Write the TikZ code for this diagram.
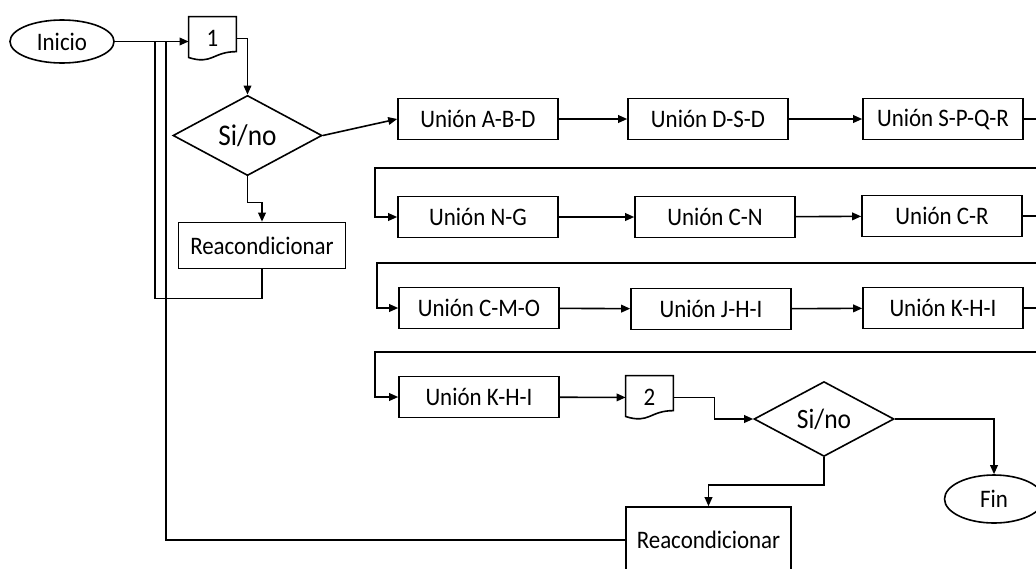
\documentclass[tikz,border=0pt]{standalone}
\usepackage{fontspec}
\setmainfont{Carlito}[FakeStretch=0.91]
\usepackage{tikz}
\usetikzlibrary{shapes.geometric, arrows.meta, calc}
\tikzset{
	flow/.style={line width=0.8pt},
	union/.style={draw, flow, minimum width=80pt, minimum height=20.5pt, inner sep=0pt},
	reac/.style={draw, flow, minimum width=83.5pt, minimum height=23pt, inner sep=0pt},
	decision/.style={draw, flow, diamond, minimum width=74.5pt, minimum height=38.5pt, inner sep=0pt, font=\fontsize{15}{17}\selectfont},
	terminal/.style={draw, flow, ellipse, minimum width=52pt, minimum height=21.5pt, inner sep=0pt},
	docnode/.style={minimum width=23.5pt, minimum height=21.5pt, inner sep=0pt},
}
% outline of a document node (wavy bottom)
\newcommand{\docoutline}[1]{%
	\draw[flow] (#1.north west) -- (#1.north east) -- ($(#1.north east)!0.8!(#1.south east)$)
		.. controls ($(#1.north)!0.8!(#1.south)$) and ($(#1.north)!1.107!(#1.south)$) .. ($(#1.north west)!0.934!(#1.south west)$) -- cycle;}

\begin{document}
\begin{tikzpicture}[x=0.5pt, y=-0.5pt, >={Triangle[length=4.5pt,width=3.8pt]}, font=\fontsize{12.6}{15}\selectfont]
	\useasboundingbox (0,0) rectangle (1036,568);
	\clip (0,0) rectangle (1036,568);

	\draw (62,41.5) node[terminal] (inicio) {Inicio}
		(212.5,38.5) node[docnode] (doc1) {1}
		(247.5,135.5) node[decision] (d1) {Si/no}
		(262,245.5) node[reac] (reac1) {Reacondicionar}
		(478,119) node[union] (abd) {Unión A-B-D}
		(708,119) node[union] (dsd) {Unión D-S-D}
		(943,119) node[union] (spqr) {Unión S-P-Q-R}
		(478,217) node[union] (ng) {Unión N-G}
		(715,217) node[union] (cn) {Unión C-N}
		(942,216) node[union] (cr) {Unión C-R}
		(479,308) node[union] (cmo) {Unión C-M-O}
		(711,309) node[union] (jhi) {Unión J-H-I}
		(943,308) node[union] (khi) {Unión K-H-I}
		(479,397) node[union] (khi2) {Unión K-H-I}
		(649.5,397.5) node[docnode] (doc2) {2}
		(824,419) node[decision, minimum width=70pt, minimum height=32.5pt, font=\fontsize{14}{16}\selectfont] (d2) {Si/no}
		(994,499) node[terminal, minimum width=49.5pt, minimum height=24pt] (fin) {Fin}
		(708.5,540) node[reac, minimum width=82.5pt, minimum height=33pt] (reac2) {Reacondicionar};
	\docoutline{doc1}
	\docoutline{doc2}

	\coordinate (j1) at (155,41.5);
	\coordinate (j2) at (166,41.5);
	\coordinate (w1) at (375,168);
	\coordinate (w2) at (377,263);
	\coordinate (w3) at (375,352);

	\draw[flow,->] (inicio.east) -- (inicio.east -| doc1.west);
	\draw[flow,->] (doc1.east) -| (d1.north);
	\draw[flow,->] (d1.east) -- (abd.west);
	\draw[flow,->] (d1.south) -- ++(0,26) -| (reac1.north);
	\draw[flow] (reac1.south) -- ++(0,29) -| (j1);

	\draw[flow,->] (abd) -- (dsd);
	\draw[flow,->] (dsd) -- (spqr);
	\draw[flow,->] (spqr.east) -- ++(27,0) |- (w1) |- (ng.west);
	\draw[flow,->] (ng) -- (cn);
	\draw[flow,->] (cn) -- (cr);
	\draw[flow,->] (cr.east) -- ++(27,0) |- (w2) |- (cmo.west);
	\draw[flow,->] (cmo) -- (jhi);
	\draw[flow,->] (jhi) -- (khi);
	\draw[flow,->] (khi.east) -- ++(27,0) |- (w3) |- (khi2.west);

	\draw[flow,->] (khi2) -- (doc2);
	\draw[flow,->] (doc2.east) -- ++(41,0) |- (d2.west);
	\draw[flow,->] (d2.east) -| (fin.north);
	\draw[flow,->] (d2.south) -- ++(0,28) -| (reac2.north);
	\draw[flow] (reac2.west) -| (j2);
\end{tikzpicture}
\end{document}
